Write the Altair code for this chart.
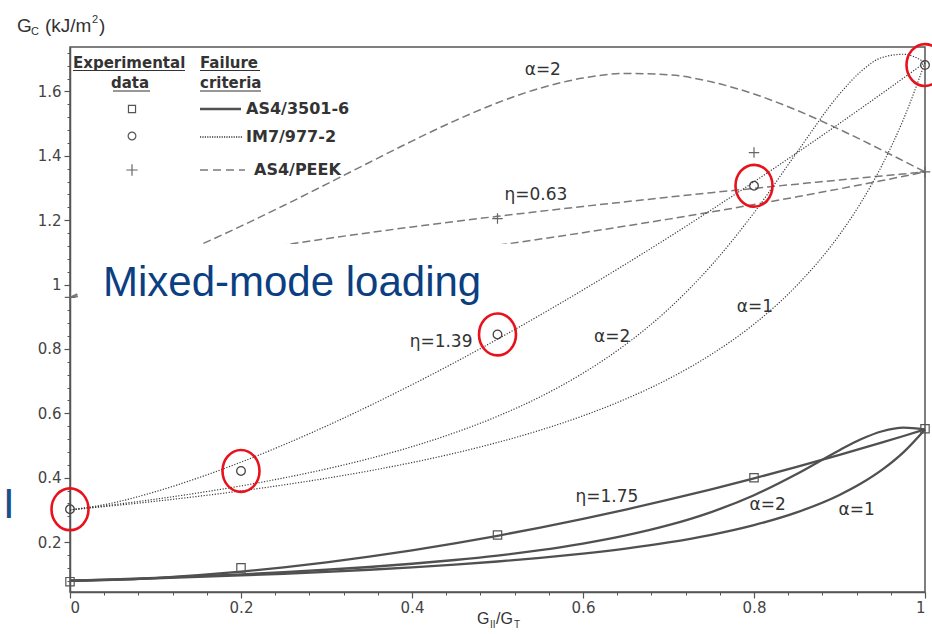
import altair as alt
import pandas as pd

# ---------------- data ----------------
XS = [0.0, 0.05, 0.1, 0.15, 0.2, 0.25, 0.3, 0.35, 0.4, 0.45, 0.5, 0.55, 0.6,
      0.65, 0.7, 0.75, 0.8, 0.85, 0.9, 0.925, 0.95, 0.975, 1.0]

# AS4/3501-6 (solid)
A_ETA175 = [0.080, 0.0825, 0.0884, 0.0970, 0.1081, 0.1215, 0.1372, 0.1549, 0.1746, 0.1962, 0.2197, 0.2451,
            0.2722, 0.3012, 0.3318, 0.3641, 0.3981, 0.4337, 0.4709, 0.4901, 0.5097, 0.5296, 0.550]
A_ALPHA1 = [0.0800, 0.0836, 0.0875, 0.0918, 0.0965, 0.1017, 0.1076, 0.1141, 0.1216, 0.1300, 0.1397, 0.1509,
            0.1642, 0.1800, 0.1991, 0.2228, 0.2529, 0.2924, 0.3465, 0.3818, 0.4251, 0.4796, 0.5500]
A_ALPHA2 = [0.0800, 0.0842, 0.0889, 0.0941, 0.0999, 0.1065, 0.1141, 0.1227, 0.1327, 0.1444, 0.1583, 0.1750,
            0.1954, 0.2207, 0.2525, 0.2933, 0.3457, 0.4116, 0.4856, 0.5194, 0.5444, 0.5555, 0.5500]
# IM7/977-2 (dotted)
B_ETA139 = [0.300, 0.3216, 0.3566, 0.3995, 0.4484, 0.5023, 0.5607, 0.6231, 0.6890, 0.7581, 0.8304, 0.9055,
            0.9834, 1.0638, 1.1466, 1.2319, 1.3193, 1.4089, 1.5006, 1.5473, 1.5943, 1.6419, 1.690]
B_ALPHA1 = [0.3000, 0.3129, 0.3269, 0.3422, 0.3591, 0.3777, 0.3983, 0.4213, 0.4471, 0.4763, 0.5096, 0.5478,
            0.5923, 0.6446, 0.7071, 0.7830, 0.8772, 0.9971, 1.1549, 1.2542, 1.3721, 1.5146, 1.6900]
B_ALPHA2 = [0.3000, 0.3158, 0.3333, 0.3528, 0.3746, 0.3993, 0.4273, 0.4594, 0.4965, 0.5398, 0.5908, 0.6515,
            0.7248, 0.8141, 0.9239, 1.0592, 1.2230, 1.4100, 1.5917, 1.6619, 1.7056, 1.7155, 1.6900]
# AS4/PEEK (dashed)
C_ETA063 = [0.960, 1.0191, 1.0514, 1.0780, 1.1015, 1.1229, 1.1427, 1.1613, 1.1790, 1.1958, 1.2120, 1.2276,
            1.2427, 1.2573, 1.2715, 1.2854, 1.2989, 1.3120, 1.3250, 1.3313, 1.3376, 1.3438, 1.350]
C_ALPHA1 = [0.9600, 0.9741, 0.9886, 1.0035, 1.0189, 1.0347, 1.0511, 1.0680, 1.0854, 1.1035, 1.1221, 1.1414,
            1.1613, 1.1820, 1.2033, 1.2255, 1.2486, 1.2725, 1.2973, 1.3101, 1.3231, 1.3364, 1.3500]
C_ALPHA2 = [0.9600, 1.0098, 1.0633, 1.1206, 1.1815, 1.2455, 1.3119, 1.3793, 1.4458, 1.5087, 1.5647, 1.6102,
            1.6415, 1.6558, 1.6518, 1.6298, 1.5920, 1.5415, 1.4820, 1.4501, 1.4172, 1.3837, 1.3500]

# experimental data
SQ_X = [0.0, 0.2, 0.5, 0.8, 1.0]
SQ_Y = [0.077, 0.120, 0.222, 0.400, 0.552]
CI_X = [0.0, 0.2, 0.5, 0.8, 1.0]
CI_Y = [0.302, 0.421, 0.845, 1.307, 1.682]
PL_X = [0.0, 0.5, 0.8, 1.0]
PL_Y = [0.960, 1.205, 1.410, 1.350]

# curve labels
LBL_TEXT = ["α=2", "η=0.63", "η=1.39", "α=2", "α=1", "η=1.75", "α=2", "α=1"]
LBL_X = [0.553, 0.545, 0.434, 0.634, 0.801, 0.628, 0.816, 0.920]
LBL_Y = [1.666, 1.277, 0.821, 0.837, 0.930, 0.339, 0.315, 0.299]

X_TICKS = [0.0, 0.2, 0.4, 0.6, 0.8, 1.0]
Y_TICKS = [0.2, 0.4, 0.6, 0.8, 1.0, 1.2, 1.4, 1.6]
X_MINOR = [0.04, 0.08, 0.12, 0.16, 0.24, 0.28, 0.32, 0.36, 0.44, 0.48, 0.52, 0.56,
           0.64, 0.68, 0.72, 0.76, 0.84, 0.88, 0.92, 0.96]
Y_MINOR = [0.08, 0.12, 0.16, 0.24, 0.28, 0.32, 0.36, 0.44, 0.48, 0.52, 0.56, 0.64, 0.68,
           0.72, 0.76, 0.84, 0.88, 0.92, 0.96, 1.04, 1.08, 1.12, 1.16, 1.24, 1.28, 1.32,
           1.36, 1.44, 1.48, 1.52, 1.56, 1.64, 1.68, 1.72]

# ---------------- tables ----------------
rows = []
for mat, crit, ys in [("A", "eta", A_ETA175), ("A", "a1", A_ALPHA1), ("A", "a2", A_ALPHA2),
                      ("B", "eta", B_ETA139), ("B", "a1", B_ALPHA1), ("B", "a2", B_ALPHA2),
                      ("C", "eta", C_ETA063), ("C", "a1", C_ALPHA1), ("C", "a2", C_ALPHA2)]:
    for xv, yv in zip(XS, ys):
        rows.append({"mat": mat, "crit": crit, "x": xv, "y": yv})
curves = pd.DataFrame(rows)
sq = pd.DataFrame({"x": SQ_X, "y": SQ_Y})
ci = pd.DataFrame({"x": CI_X, "y": CI_Y})
pl = pd.DataFrame({"x": PL_X, "y": PL_Y})
lbl = pd.DataFrame({"x": LBL_X, "y": LBL_Y, "t": LBL_TEXT})
DUMMY = pd.DataFrame({"d": [0]})

AXC = "#555555"
XSCALE = alt.Scale(domain=[0, 1], nice=False, zero=False)
YSCALE = alt.Scale(domain=[0.045, 1.738], nice=False, zero=False)
LAB = dict(labelFont="DejaVu Sans", labelFontSize=15, labelColor="#444444")

X_MAJOR_AX = alt.Axis(orient="bottom", values=X_TICKS, format="~g", tickSize=6, tickWidth=1.2,
                      tickColor=AXC, domainColor=AXC, domainWidth=1.5, labelPadding=2,
                      title=None, grid=False, **LAB)
Y_MAJOR_AX = alt.Axis(orient="left", values=Y_TICKS, format="~g", tickSize=6, tickWidth=1.2,
                      tickColor=AXC, domainColor=AXC, domainWidth=1.5, labelPadding=3,
                      title=None, grid=False, **LAB)
X_MINOR_AX = alt.Axis(orient="bottom", values=X_MINOR, labels=False, tickSize=3, tickWidth=1,
                      tickColor=AXC, domain=False, title=None, grid=False)
Y_MINOR_AX = alt.Axis(orient="left", values=Y_MINOR, labels=False, tickSize=3, tickWidth=1,
                      tickColor=AXC, domain=False, title=None, grid=False)


def X(axis=None):
    return alt.X("x:Q", scale=XSCALE, axis=axis)


def Y(axis=None):
    return alt.Y("y:Q", scale=YSCALE, axis=axis)


layers = []

# axis holders
layers.append(alt.Chart(sq).mark_point(opacity=0).encode(x=X(X_MAJOR_AX), y=Y(Y_MAJOR_AX)))
layers.append(alt.Chart(sq).mark_point(opacity=0).encode(x=X(X_MINOR_AX), y=Y(Y_MINOR_AX)))

# curves
layers.append(alt.Chart(curves[curves.mat == "C"]).mark_line(
    interpolate="monotone", color="#7a7a7a", strokeWidth=1.5, strokeDash=[8, 4]
).encode(x=X(), y=Y(), detail="crit:N", order="x:Q"))
layers.append(alt.Chart(curves[curves.mat == "B"]).mark_line(
    interpolate="monotone", color="#3a3a3a", strokeWidth=1.2, strokeDash=[1.2, 1.6]
).encode(x=X(), y=Y(), detail="crit:N", order="x:Q"))
layers.append(alt.Chart(curves[curves.mat == "A"]).mark_line(
    interpolate="monotone", color="#505050", strokeWidth=2.3
).encode(x=X(), y=Y(), detail="crit:N", order="x:Q"))

# "Mixed-mode loading" overlay box (plot-pixel coords) — covers the curves behind it
layers.append(alt.Chart(DUMMY).mark_rect(color="white").encode(
    x=alt.value(10), x2=alt.value(437), y=alt.value(197), y2=alt.value(272)))

# experimental points
PLUS = "M -1 0 L 1 0 M 0 -1 L 0 1"
layers.append(alt.Chart(sq).mark_point(shape="square", size=70, filled=False, color="#555555",
                                       strokeWidth=1.2, opacity=1).encode(x=X(), y=Y()))
layers.append(alt.Chart(ci).mark_point(shape="circle", size=75, filled=False, color="#444444",
                                       strokeWidth=1.3, opacity=1).encode(x=X(), y=Y()))
layers.append(alt.Chart(pl).mark_point(shape=PLUS, size=110, filled=False,
                                       color="#666666", strokeWidth=1.2, opacity=1).encode(x=X(), y=Y()))
# red highlight ellipses (bezier ellipse, 37 x 42 px)
ELLIPSE = ("M 0 -1.13 C 0.552 -1.13 1 -0.624 1 0 C 1 0.624 0.552 1.13 0 1.13 "
           "C -0.552 1.13 -1 0.624 -1 0 C -1 -0.624 -0.552 -1.13 0 -1.13 Z")
layers.append(alt.Chart(ci).mark_point(shape=ELLIPSE, size=1369, filled=False, color="#e8121c",
                                       strokeWidth=2.6, opacity=1).encode(x=X(), y=Y()))


def txt(s, px, py, size, weight="normal", color="#333333", align="left", font="DejaVu Sans",
        baseline="alphabetic"):
    return alt.Chart(DUMMY).mark_text(text=s, fontSize=size, fontWeight=weight, color=color,
                                      align=align, baseline=baseline, font=font).encode(
        x=alt.value(px), y=alt.value(py))


layers.append(txt("Mixed-mode loading", 33, 249, 42, color="#0b3f82", font="Liberation Sans"))

# curve labels
layers.append(alt.Chart(lbl).mark_text(fontSize=17, font="DejaVu Sans", color="#333333",
                                       align="center", baseline="middle").encode(
    x=X(), y=Y(), text="t:N"))

# legend
LC = "#333333"
layers.append(txt("Experimental", 3, 21, 15, "bold", LC))
layers.append(txt("data", 60, 41, 15, "bold", LC, align="center"))
layers.append(txt("Failure", 130, 21, 15, "bold", LC))
layers.append(txt("criteria", 130, 41, 15, "bold", LC))
for a, b, yy in [(3, 115, 23.5), (43, 80, 44), (130, 190, 23.5), (130, 191, 44)]:
    layers.append(alt.Chart(DUMMY).mark_rule(color=LC, strokeWidth=1.2).encode(
        x=alt.value(a), x2=alt.value(b), y=alt.value(yy)))
layers.append(alt.Chart(DUMMY).mark_point(shape="square", size=50, filled=False, color="#555555",
                                          strokeWidth=1.2, opacity=1).encode(x=alt.value(62), y=alt.value(62)))
layers.append(alt.Chart(DUMMY).mark_point(shape="circle", size=60, filled=False, color="#555555",
                                          strokeWidth=1.2, opacity=1).encode(x=alt.value(62), y=alt.value(89)))
layers.append(alt.Chart(DUMMY).mark_point(shape=PLUS, size=130, filled=False,
                                          color="#666666", strokeWidth=1.2, opacity=1).encode(
    x=alt.value(62), y=alt.value(123)))
layers.append(alt.Chart(DUMMY).mark_rule(color="#505050", strokeWidth=2.3).encode(
    x=alt.value(130), x2=alt.value(171), y=alt.value(62)))
layers.append(alt.Chart(DUMMY).mark_rule(color="#3a3a3a", strokeWidth=1.3, strokeDash=[1.2, 1.2]).encode(
    x=alt.value(130), x2=alt.value(172), y=alt.value(90)))
layers.append(alt.Chart(DUMMY).mark_rule(color="#7a7a7a", strokeWidth=1.6, strokeDash=[8, 5]).encode(
    x=alt.value(130), x2=alt.value(175), y=alt.value(123)))
layers.append(txt("AS4/3501-6", 176, 62, 16, "bold", LC, baseline="middle"))
layers.append(txt("IM7/977-2", 176, 90, 16, "bold", LC, baseline="middle"))
layers.append(txt("AS4/PEEK", 184, 123, 16, "bold", LC, baseline="middle"))

# axis titles (built from pieces for sub/superscripts)
TC = "#333333"
layers.append(txt("G", -53, -15, 19, color=TC, font="Liberation Sans"))
layers.append(txt("C", -39, -12, 11, color=TC, font="Liberation Sans"))
layers.append(txt("(kJ/m", -25, -15, 19, color=TC, font="Liberation Sans"))
layers.append(txt("2", 22, -24, 11, color=TC, font="Liberation Sans"))
layers.append(txt(")", 29, -15, 19, color=TC, font="Liberation Sans"))

layers.append(txt("G", 407, 577, 16, color=TC, font="Liberation Sans"))
layers.append(txt("II", 420, 581, 10, color=TC, font="Liberation Sans"))
layers.append(txt("/G", 426, 577, 16, color=TC, font="Liberation Sans"))
layers.append(txt("T", 444, 581, 10, color=TC, font="Liberation Sans"))

# fragment of slide text at far left
layers.append(txt("I", -67, 471, 42, color="#1b4f8c", font="Liberation Sans"))

chart = alt.layer(*layers).resolve_axis(x="independent", y="independent").properties(
    width=855, height=545,
    autosize=alt.AutoSizeParams(type="none"),
    padding={"left": 70, "top": 47, "right": 7, "bottom": 42},
).configure_view(stroke=AXC, strokeWidth=1.5)

chart.save("out.html", embed_options={"renderer": "svg", "actions": False})
